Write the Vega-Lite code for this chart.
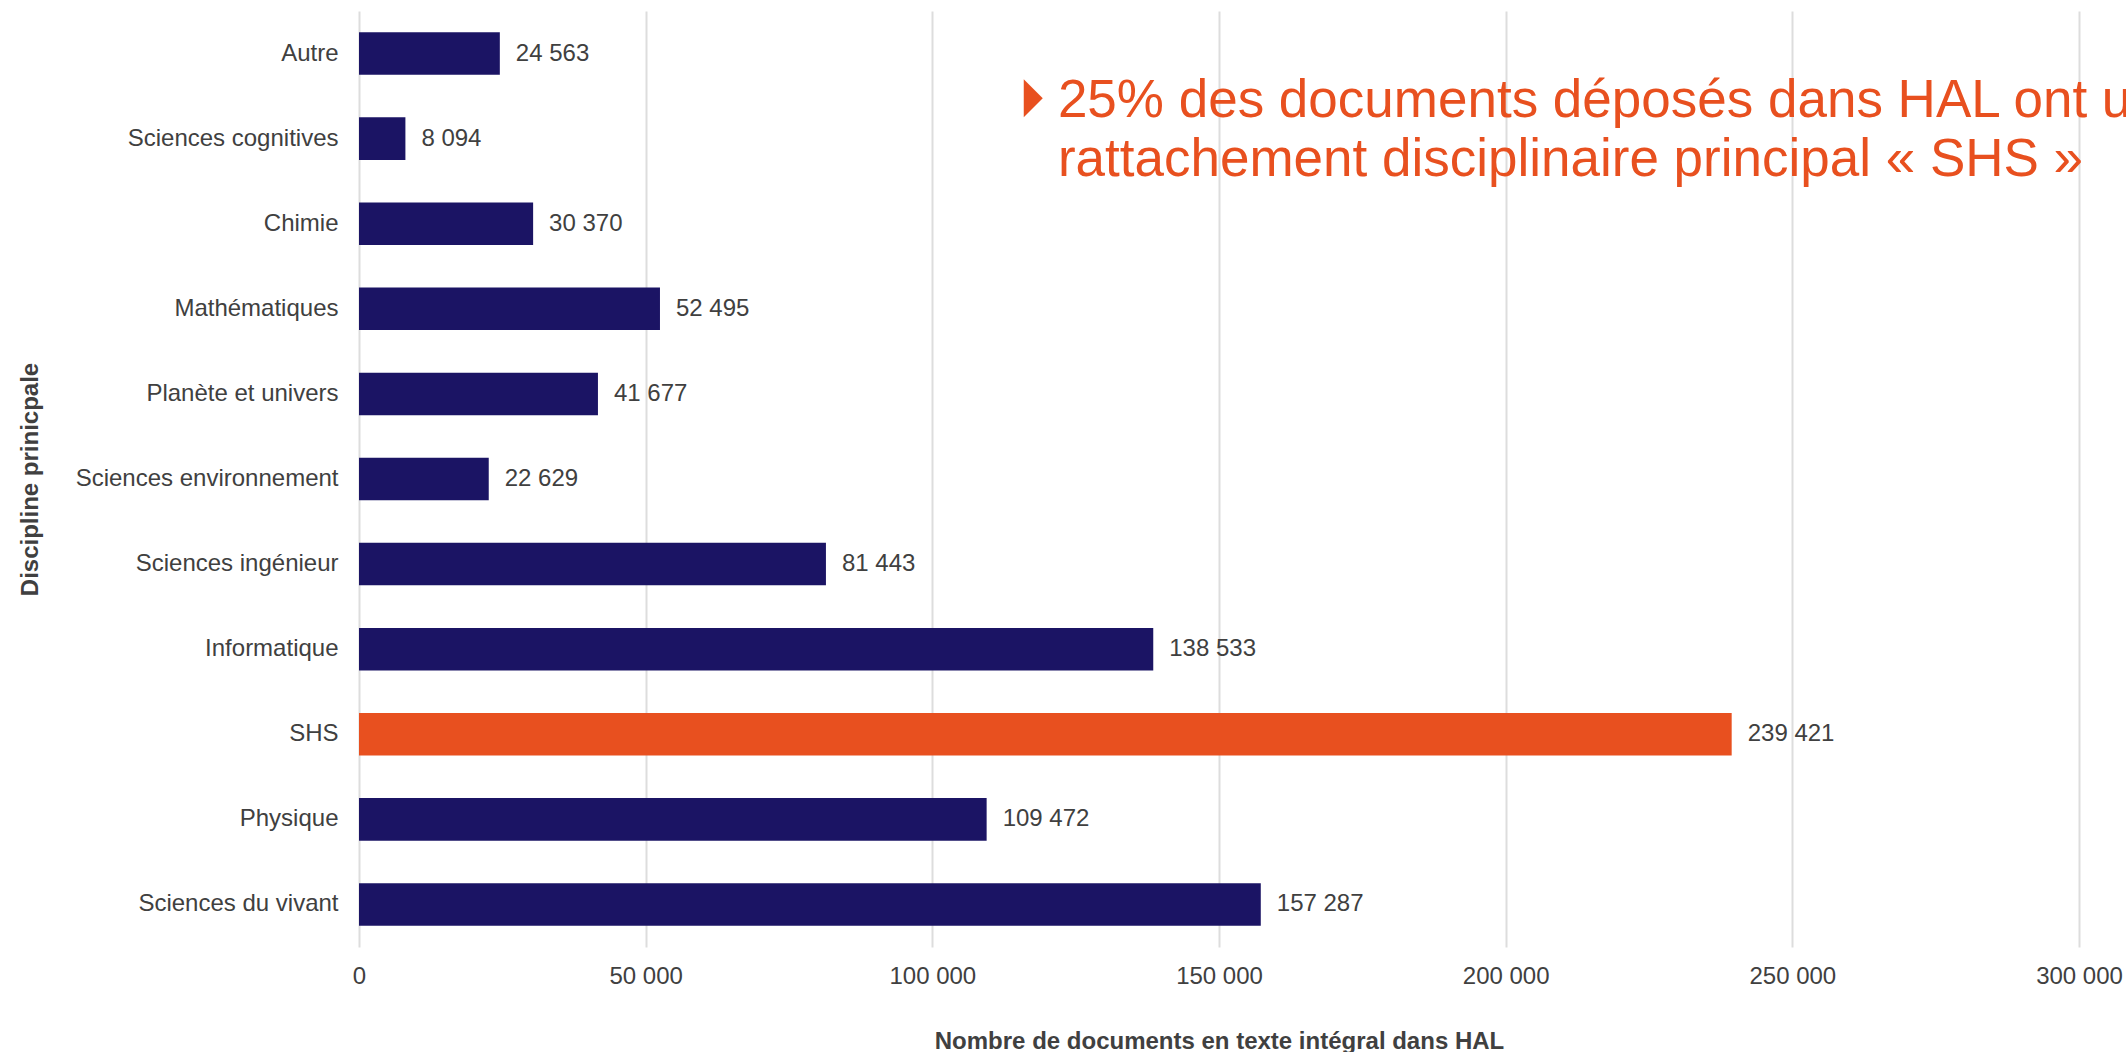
{
  "$schema": "https://vega.github.io/schema/vega-lite/v6.json",
  "autosize": {"type": "none"},
  "width": 1720,
  "height": 936,
  "padding": {"left": 359, "right": 47, "top": 11, "bottom": 105},
  "background": "white",
  "config": {
    "view": {"stroke": null},
    "font": "Liberation Sans",
    "locale": {"number": {"decimal": ",", "thousands": " ", "grouping": [3], "currency": ["", " €"]}},
    "axis": {
      "labelFont": "Liberation Sans",
      "titleFont": "Liberation Sans",
      "labelColor": "#404040",
      "titleColor": "#404040",
      "labelFontSize": 24,
      "titleFontSize": 24,
      "titleFontWeight": "bold",
      "labelLimit": 0,
      "domain": false,
      "ticks": false,
      "tickSize": 0
    }
  },
  "datasets": {
    "disc": [
      {"discipline": "Autre\u00a0", "documents": 24563},
      {"discipline": "Sciences cognitives", "documents": 8094},
      {"discipline": "Chimie", "documents": 30370},
      {"discipline": "Mathématiques", "documents": 52495},
      {"discipline": "Planète et univers", "documents": 41677},
      {"discipline": "Sciences environnement", "documents": 22629},
      {"discipline": "Sciences ingénieur", "documents": 81443},
      {"discipline": "Informatique", "documents": 138533},
      {"discipline": "SHS", "documents": 239421},
      {"discipline": "Physique", "documents": 109472},
      {"discipline": "Sciences du vivant", "documents": 157287}
    ],
    "note": [
      {"discipline": "Sciences cognitives", "x_tri": 117600, "x_text": 121900, "texte": "25% des documents déposés dans HAL ont un\nrattachement disciplinaire principal « SHS »"}
    ]
  },
  "layer": [
    {
      "data": {"name": "disc"},
      "mark": {"type": "bar"},
      "encoding": {
        "y": {
          "field": "discipline", "type": "nominal",
          "sort": ["Autre\u00a0", "Sciences cognitives", "Chimie", "Mathématiques", "Planète et univers", "Sciences environnement", "Sciences ingénieur", "Informatique", "SHS", "Physique", "Sciences du vivant"],
          "scale": {"paddingInner": 0.5, "paddingOuter": 0.25},
          "axis": {"title": "Discipline prinicpale", "labelPadding": 21, "titlePadding": 117, "grid": false}
        },
        "x": {
          "field": "documents", "type": "quantitative",
          "scale": {"domain": [0, 300000], "nice": false},
          "axis": {
            "title": "Nombre de documents en texte intégral dans HAL",
            "values": [0, 50000, 100000, 150000, 200000, 250000, 300000],
            "format": ",d",
            "labelFlush": false,
            "grid": true, "gridColor": "#dddddd", "gridWidth": 2,
            "labelPadding": 17, "titlePadding": 41
          }
        },
        "color": {
          "condition": {"test": "datum.discipline === 'SHS'", "value": "#E8501F"},
          "value": "#1B1464"
        }
      }
    },
    {
      "data": {"name": "disc"},
      "mark": {"type": "text", "align": "left", "baseline": "middle", "dx": 16, "fontSize": 24, "color": "#404040", "font": "Liberation Sans"},
      "encoding": {
        "y": {"field": "discipline", "type": "nominal", "sort": ["Autre\u00a0", "Sciences cognitives", "Chimie", "Mathématiques", "Planète et univers", "Sciences environnement", "Sciences ingénieur", "Informatique", "SHS", "Physique", "Sciences du vivant"]},
        "x": {"field": "documents", "type": "quantitative"},
        "text": {"field": "documents", "type": "quantitative", "format": ",d"}
      }
    },
    {
      "data": {"name": "note"},
      "mark": {"type": "point", "shape": "M -0.5 -1 L 0.5 0 L -0.5 1 Z", "filled": true, "size": 1444, "color": "#E8501F", "opacity": 1, "strokeWidth": 0},
      "encoding": {
        "y": {"field": "discipline", "type": "nominal", "bandPosition": -0.45, "sort": ["Autre\u00a0", "Sciences cognitives", "Chimie", "Mathématiques", "Planète et univers", "Sciences environnement", "Sciences ingénieur", "Informatique", "SHS", "Physique", "Sciences du vivant"]},
        "x": {"field": "x_tri", "type": "quantitative"}
      }
    },
    {
      "data": {"name": "note"},
      "mark": {"type": "text", "align": "left", "baseline": "alphabetic", "lineBreak": "\n", "fontSize": 53, "lineHeight": 59, "color": "#E8501F", "font": "Liberation Sans"},
      "encoding": {
        "y": {"field": "discipline", "type": "nominal", "bandPosition": 0, "sort": ["Autre\u00a0", "Sciences cognitives", "Chimie", "Mathématiques", "Planète et univers", "Sciences environnement", "Sciences ingénieur", "Informatique", "SHS", "Physique", "Sciences du vivant"]},
        "x": {"field": "x_text", "type": "quantitative"},
        "text": {"field": "texte", "type": "nominal"}
      }
    }
  ]
}
